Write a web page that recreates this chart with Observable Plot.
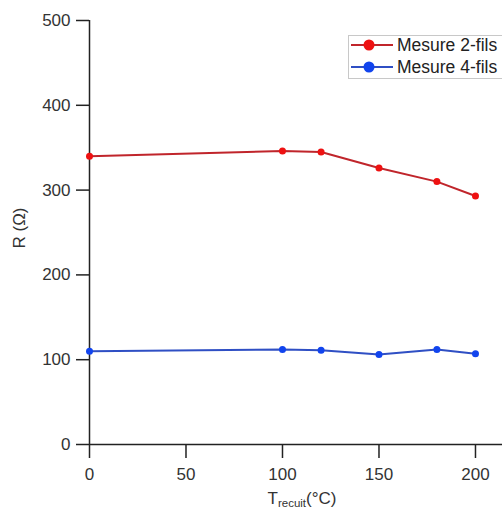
<!DOCTYPE html>
<html>
<head>
<meta charset="utf-8">
<script src="https://cdn.jsdelivr.net/npm/d3@7"></script>
<script src="https://cdn.jsdelivr.net/npm/@observablehq/plot@0.6"></script>
<style>
  html, body { margin: 0; padding: 0; background: #fff; }
  #chart svg { display: block; }
</style>
</head>
<body>
<div id="chart"></div>
<script>
const temps = [0, 100, 120, 150, 180, 200];
const mesure2 = [340, 346, 345, 326, 310, 293];
const mesure4 = [110, 112, 111, 106, 112, 107];
const seriesNames = ["Mesure 2-fils", "Mesure 4-fils"];
const lineColors = ["#c0252b", "#2f4fc4"];
const dotColors = ["#ee1111", "#1144ee"];
const xTicks = [0, 50, 100, 150, 200];
const yTicks = [0, 100, 200, 300, 400, 500];

const data = [];
temps.forEach((t, i) => {
  data.push({T: t, R: mesure2[i], s: seriesNames[0]});
  data.push({T: t, R: mesure4[i], s: seriesNames[1]});
});

const font = "Liberation Sans, Arial, sans-serif";

const plot = Plot.plot({
  width: 502,
  height: 512,
  marginLeft: 89,
  marginRight: 0,
  marginTop: 20,
  marginBottom: 68,
  style: {fontFamily: font, fontSize: "17px", color: "#333", background: "#fff"},
  x: {domain: [0, 214], ticks: xTicks, label: null},
  y: {domain: [0, 500], ticks: yTicks, label: null},
  color: {domain: seriesNames, range: lineColors},
  marks: [
    Plot.axisX({ticks: xTicks, tickSize: 14, tickPadding: 9, stroke: "#222", strokeWidth: 1.5, fill: "#333", fontSize: 17, label: null}),
    Plot.axisY({ticks: yTicks, tickSize: 13, tickPadding: 6, stroke: "#222", strokeWidth: 1.5, fill: "#333", fontSize: 17, label: null}),
    Plot.ruleX([0], {stroke: "#222", strokeWidth: 1.5}),
    Plot.ruleY([0], {stroke: "#222", strokeWidth: 1.5}),
    Plot.line(data, {x: "T", y: "R", z: "s", stroke: "s", strokeWidth: 2}),
    Plot.dot(data, {x: "T", y: "R", fill: d => d.s === seriesNames[0] ? dotColors[0] : dotColors[1], r: 3.5, stroke: "none"})
  ]
});

document.getElementById("chart").appendChild(plot);

const svg = d3.select(plot);
// Y label
svg.append("text")
  .attr("transform", "translate(25,228) rotate(-90)")
  .attr("text-anchor", "middle")
  .attr("font-family", font).attr("font-size", 17).attr("fill", "#333")
  .text("R (Ω)");
// X label with subscript
const xl = svg.append("text")
  .attr("x", 302).attr("y", 504)
  .attr("text-anchor", "middle")
  .attr("font-family", font).attr("font-size", 17).attr("fill", "#333");
xl.append("tspan").text("T");
xl.append("tspan").attr("font-size", 11.5).attr("dy", 3).text("recuit");
xl.append("tspan").attr("dy", -3).text("(°C)");

// Legend
const lg = svg.append("g");
lg.append("rect").attr("x", 348.5).attr("y", 35.5).attr("width", 160).attr("height", 43)
  .attr("fill", "#fff").attr("stroke", "#c8c8c8").attr("stroke-width", 1);
seriesNames.forEach((name, i) => {
  const y = 45 + i * 22;
  lg.append("line").attr("x1", 351).attr("x2", 393).attr("y1", y).attr("y2", y)
    .attr("stroke", lineColors[i]).attr("stroke-width", 2);
  lg.append("circle").attr("cx", 369).attr("cy", y).attr("r", 5.5).attr("fill", dotColors[i]);
  lg.append("text").attr("x", 397).attr("y", y + 6)
    .attr("text-anchor", "start")
    .attr("font-family", font).attr("font-size", 17.5).attr("fill", "#222").text(name);
});
</script>
</body>
</html>
